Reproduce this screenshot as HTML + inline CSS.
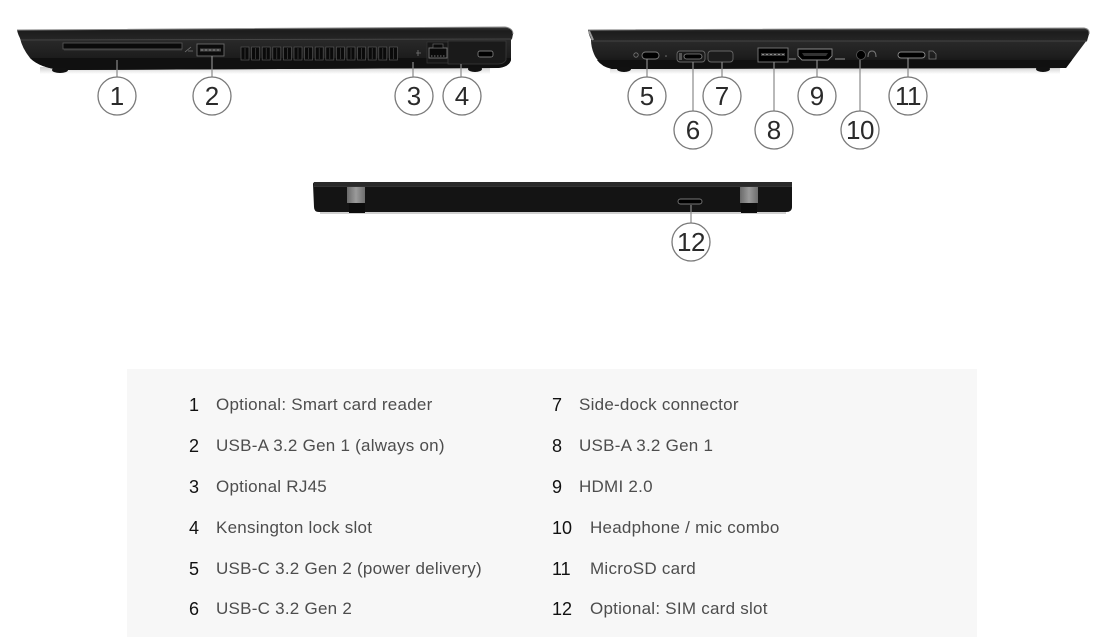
<!DOCTYPE html>
<html><head><meta charset="utf-8">
<style>
html,body{margin:0;padding:0;background:#fff;}
body{width:1106px;height:637px;position:relative;overflow:hidden;font-family:"Liberation Sans",sans-serif;}
.panel{position:absolute;left:127px;top:369px;width:850px;height:268px;background:#f7f7f7;}
.n{position:absolute;font-size:18px;line-height:22px;color:#111;}
.t{position:absolute;font-size:17px;line-height:22px;color:#4d4d4d;letter-spacing:0.25px;white-space:nowrap;}
svg{position:absolute;left:0;top:0;}
</style></head><body>
<svg width="1106" height="300" viewBox="0 0 1106 300">
<defs>
 <linearGradient id="bd" x1="0" y1="0" x2="0" y2="1">
  <stop offset="0" stop-color="#2a2a2a"/><stop offset="0.55" stop-color="#1e1e1e"/><stop offset="1" stop-color="#0c0c0c"/>
 </linearGradient>
 <linearGradient id="lid" x1="0" y1="0" x2="0" y2="1">
  <stop offset="0" stop-color="#3a3a3a"/><stop offset="0.3" stop-color="#1c1c1c"/><stop offset="1" stop-color="#262626"/>
 </linearGradient>
 <linearGradient id="hg" x1="0" y1="0" x2="1" y2="0">
  <stop offset="0" stop-color="#6a6a6a"/><stop offset="0.5" stop-color="#9a9a9a"/><stop offset="1" stop-color="#6e6e6e"/>
 </linearGradient>
 <linearGradient id="sh" x1="0" y1="0" x2="0" y2="1">
  <stop offset="0" stop-color="#cfcfcf"/><stop offset="1" stop-color="#ffffff"/>
 </linearGradient>
</defs>

<!-- ===== Laptop 1 (right side view) ===== -->
<rect x="40" y="67" width="450" height="7" fill="url(#sh)"/>
<path d="M20,38 L511,38 L511,60 Q509,67 498,68 L62,70 Q40,68 30,58 Q22,48 20,38 Z" fill="url(#bd)"/>
<path d="M30,58 Q40,68 62,70 L498,68 Q509,67 511,60 L511,58 Z" fill="#101010"/>
<path d="M17,30 L505,27 Q513,28 513,34 L512,39 L21,40 Q18,35 17,30 Z" fill="url(#lid)"/>
<path d="M17,30 L505,27 Q513,28 513,34" fill="none" stroke="#8a8a8a" stroke-width="1"/>
<line x1="21" y1="40" x2="512" y2="39" stroke="#444" stroke-width="1"/>
<ellipse cx="60" cy="70" rx="8" ry="3" fill="#111"/>
<ellipse cx="475" cy="69" rx="7" ry="3" fill="#111"/>
<!-- card slot -->
<rect x="63" y="43" width="119" height="6" fill="#0a0a0a" stroke="#5a5a5a" stroke-width="0.8"/>
<line x1="64" y1="50" x2="182" y2="50" stroke="#3a3a3a" stroke-width="1"/>
<path d="M185,52 l6,-5 M188,51 h5" stroke="#777" stroke-width="0.8"/>
<!-- USB-A -->
<rect x="197" y="44" width="27" height="12" fill="#0b0b0b" stroke="#6a6a6a" stroke-width="0.9"/>
<rect x="200" y="48.5" width="21" height="3" fill="#4a4a4a"/>
<line x1="201" y1="50" x2="220" y2="50" stroke="#999" stroke-width="0.8" stroke-dasharray="2,2"/>
<!-- vents -->
<g fill="#0a0a0a" stroke="#555" stroke-width="0.7">
<rect x="241" y="47" width="8" height="13"/><rect x="251.6" y="47" width="8" height="13"/><rect x="262.2" y="47" width="8" height="13"/><rect x="272.8" y="47" width="8" height="13"/><rect x="283.4" y="47" width="8" height="13"/><rect x="294" y="47" width="8" height="13"/><rect x="304.6" y="47" width="8" height="13"/><rect x="315.2" y="47" width="8" height="13"/><rect x="325.8" y="47" width="8" height="13"/><rect x="336.4" y="47" width="8" height="13"/><rect x="347" y="47" width="8" height="13"/><rect x="357.6" y="47" width="8" height="13"/><rect x="368.2" y="47" width="8" height="13"/><rect x="378.8" y="47" width="8" height="13"/><rect x="389.4" y="47" width="8" height="13"/>
</g>
<g stroke="#444" stroke-width="0.7">
<line x1="245" y1="48" x2="245" y2="59"/><line x1="255.6" y1="48" x2="255.6" y2="59"/><line x1="266.2" y1="48" x2="266.2" y2="59"/><line x1="276.8" y1="48" x2="276.8" y2="59"/><line x1="287.4" y1="48" x2="287.4" y2="59"/><line x1="298" y1="48" x2="298" y2="59"/><line x1="308.6" y1="48" x2="308.6" y2="59"/><line x1="319.2" y1="48" x2="319.2" y2="59"/><line x1="329.8" y1="48" x2="329.8" y2="59"/><line x1="340.4" y1="48" x2="340.4" y2="59"/><line x1="351" y1="48" x2="351" y2="59"/><line x1="361.6" y1="48" x2="361.6" y2="59"/><line x1="372.2" y1="48" x2="372.2" y2="59"/><line x1="382.8" y1="48" x2="382.8" y2="59"/><line x1="393.4" y1="48" x2="393.4" y2="59"/>
</g>
<!-- RJ45 -->
<path d="M416,53 h5 M418,50 v6" stroke="#777" stroke-width="0.8"/>
<rect x="427" y="42" width="21" height="21" fill="#161616" stroke="#333" stroke-width="0.8"/>
<rect x="429" y="48" width="18" height="10" fill="#0a0a0a" stroke="#7a7a7a" stroke-width="0.9"/>
<rect x="433" y="44" width="10" height="4" fill="#0a0a0a" stroke="#666" stroke-width="0.7"/>
<line x1="431" y1="56" x2="445" y2="56" stroke="#999" stroke-width="0.8" stroke-dasharray="1.5,1.5"/>
<!-- lock panel -->
<path d="M448,41 L506,41 L506,60 Q504,64 498,64 L448,64 Z" fill="#1a1a1a" stroke="#3a3a3a" stroke-width="0.8"/>
<rect x="478" y="51" width="15" height="6" rx="2" fill="#000" stroke="#777" stroke-width="0.9"/>
<!-- leaders -->
<g stroke="#8a8a8a" stroke-width="1.2">
<line x1="117" y1="60" x2="117" y2="77"/>
<line x1="212" y1="56" x2="212" y2="77"/>
<line x1="413" y1="62" x2="413" y2="77"/>
<line x1="461" y1="64" x2="461" y2="77"/>
</g>

<!-- ===== Laptop 2 (left side view) ===== -->
<rect x="610" y="67" width="450" height="7" fill="url(#sh)"/>
<path d="M591,40 L1087,40 L1066,68 L612,69 Q598,64 594,54 Q591,47 591,40 Z" fill="url(#bd)"/>
<path d="M597,60 Q602,67 612,69 L1066,68 L1072,60 Z" fill="#101010"/>
<path d="M588,30 L1084,28 Q1090,29 1089,34 L1087,41 L592,41 Q589,36 588,30 Z" fill="url(#lid)"/>
<path d="M588,30 L1084,28 Q1090,29 1089,34" fill="none" stroke="#8a8a8a" stroke-width="1"/>
<path d="M589,31 L593,40" stroke="#9a9a9a" stroke-width="2"/>
<line x1="592" y1="41" x2="1087" y2="41" stroke="#444" stroke-width="1"/>
<ellipse cx="624" cy="69" rx="7" ry="3" fill="#111"/>
<ellipse cx="1043" cy="69" rx="7" ry="3" fill="#111"/>
<!-- port 5 -->
<circle cx="636" cy="55" r="2.2" fill="none" stroke="#777" stroke-width="0.8"/>
<rect x="642" y="52" width="17" height="7" rx="3.5" fill="#000" stroke="#7a7a7a" stroke-width="0.9"/>
<circle cx="666" cy="56" r="0.8" fill="#777"/>
<!-- port 6 -->
<rect x="677" y="51" width="28" height="11" rx="3" fill="#1a1a1a" stroke="#666" stroke-width="0.9"/>
<rect x="684" y="54" width="18" height="5" rx="2.5" fill="#000" stroke="#888" stroke-width="0.8"/>
<rect x="679" y="53" width="3" height="7" fill="#555"/>
<!-- port 7 -->
<rect x="708" y="51" width="25" height="11" rx="3" fill="#1c1c1c" stroke="#666" stroke-width="0.9"/>
<!-- port 8 -->
<rect x="758" y="48" width="30" height="14" fill="#000" stroke="#7a7a7a" stroke-width="0.9"/>
<rect x="761" y="53" width="24" height="3" fill="#3a3a3a"/>
<line x1="762" y1="54.5" x2="784" y2="54.5" stroke="#aaa" stroke-width="0.8" stroke-dasharray="2,2"/>
<rect x="789" y="58" width="7" height="2" fill="#555"/>
<!-- port 9 HDMI -->
<path d="M798,49 L832,49 L832,56 L828,60 L802,60 L798,56 Z" fill="#000" stroke="#8a8a8a" stroke-width="0.9"/>
<path d="M802,53 L828,53 L826,56 L804,56 Z" fill="#333"/>
<rect x="835" y="58" width="10" height="2" fill="#555"/>
<!-- port 10 audio -->
<circle cx="861" cy="55" r="4.5" fill="#000" stroke="#555" stroke-width="0.8"/>
<path d="M868,57 q0,-6 4,-6 q4,0 4,6" fill="none" stroke="#777" stroke-width="1"/>
<!-- port 11 microSD -->
<rect x="898" y="52" width="27" height="6" rx="3" fill="#000" stroke="#888" stroke-width="0.9"/>
<path d="M929,51 h4 l3,3 v5 h-7 z" fill="none" stroke="#777" stroke-width="0.8"/>
<!-- leaders -->
<g stroke="#8a8a8a" stroke-width="1.2">
<line x1="647" y1="59" x2="647" y2="77"/>
<line x1="693" y1="62" x2="693" y2="111"/>
<line x1="722" y1="62" x2="722" y2="77"/>
<line x1="774" y1="62" x2="774" y2="111"/>
<line x1="817" y1="60" x2="817" y2="77"/>
<line x1="860" y1="60" x2="860" y2="111"/>
<line x1="908" y1="58" x2="908" y2="77"/>
</g>

<!-- ===== Rear view ===== -->
<rect x="320" y="211" width="466" height="3" fill="#d0d0d0"/>
<path d="M313,184 Q313,182 316,182 L790,182 Q792,182 792,185 L792,207 Q792,212 786,212 L319,212 Q314,212 314,207 Z" fill="#141414"/>
<rect x="314" y="182" width="478" height="4" fill="#2a2a2a"/>
<line x1="314" y1="186.5" x2="792" y2="186.5" stroke="#333" stroke-width="1"/>
<rect x="347" y="187" width="18" height="16" fill="url(#hg)"/>
<rect x="349" y="203" width="16" height="10" fill="#0c0c0c"/>
<rect x="740" y="187" width="18" height="16" fill="url(#hg)"/>
<rect x="741" y="203" width="16" height="10" fill="#0c0c0c"/>
<rect x="678" y="199" width="24" height="5" rx="2.5" fill="#000" stroke="#777" stroke-width="0.9"/>
<line x1="691" y1="205" x2="691" y2="223" stroke="#8a8a8a" stroke-width="1.2"/>

<!-- ===== Callout circles ===== -->
<g fill="#fff" stroke="#7a7a7a" stroke-width="1.3">
<circle cx="117" cy="96" r="19"/><circle cx="212" cy="96" r="19"/><circle cx="414" cy="96" r="19"/><circle cx="462" cy="96" r="19"/>
<circle cx="647" cy="96" r="19"/><circle cx="693" cy="130" r="19"/><circle cx="722" cy="96" r="19"/><circle cx="774" cy="130" r="19"/>
<circle cx="817" cy="96" r="19"/><circle cx="860" cy="130" r="19"/><circle cx="908" cy="96" r="19"/><circle cx="691" cy="242" r="19"/>
</g>
<g font-family="Liberation Sans, sans-serif" font-size="26" fill="#2a2a2a" text-anchor="middle">
<text x="117" y="105">1</text><text x="212" y="105">2</text><text x="414" y="105">3</text><text x="462" y="105">4</text>
<text x="647" y="105">5</text><text x="693" y="139">6</text><text x="722" y="105">7</text><text x="774" y="139">8</text>
<text x="817" y="105">9</text><text x="860" y="139" letter-spacing="-0.5">10</text><text x="908" y="105" letter-spacing="-0.5">11</text><text x="691" y="251" letter-spacing="-0.5">12</text>
</g>
</svg>

<div class="panel"></div>
<div class="n" style="left:189px;top:394px">1</div><div class="t" style="left:216px;top:394px">Optional: Smart card reader</div>
<div class="n" style="left:189px;top:435px">2</div><div class="t" style="left:216px;top:435px">USB-A 3.2 Gen 1 (always on)</div>
<div class="n" style="left:189px;top:476px">3</div><div class="t" style="left:216px;top:476px">Optional RJ45</div>
<div class="n" style="left:189px;top:517px">4</div><div class="t" style="left:216px;top:517px">Kensington lock slot</div>
<div class="n" style="left:189px;top:558px">5</div><div class="t" style="left:216px;top:558px">USB-C 3.2 Gen 2 (power delivery)</div>
<div class="n" style="left:189px;top:598px">6</div><div class="t" style="left:216px;top:598px">USB-C 3.2 Gen 2</div>

<div class="n" style="left:552px;top:394px">7</div><div class="t" style="left:579px;top:394px">Side-dock connector</div>
<div class="n" style="left:552px;top:435px">8</div><div class="t" style="left:579px;top:435px">USB-A 3.2 Gen 1</div>
<div class="n" style="left:552px;top:476px">9</div><div class="t" style="left:579px;top:476px">HDMI 2.0</div>
<div class="n" style="left:552px;top:517px">10</div><div class="t" style="left:590px;top:517px">Headphone / mic combo</div>
<div class="n" style="left:552px;top:558px">11</div><div class="t" style="left:590px;top:558px">MicroSD card</div>
<div class="n" style="left:552px;top:598px">12</div><div class="t" style="left:590px;top:598px">Optional: SIM card slot</div>
</body></html>
